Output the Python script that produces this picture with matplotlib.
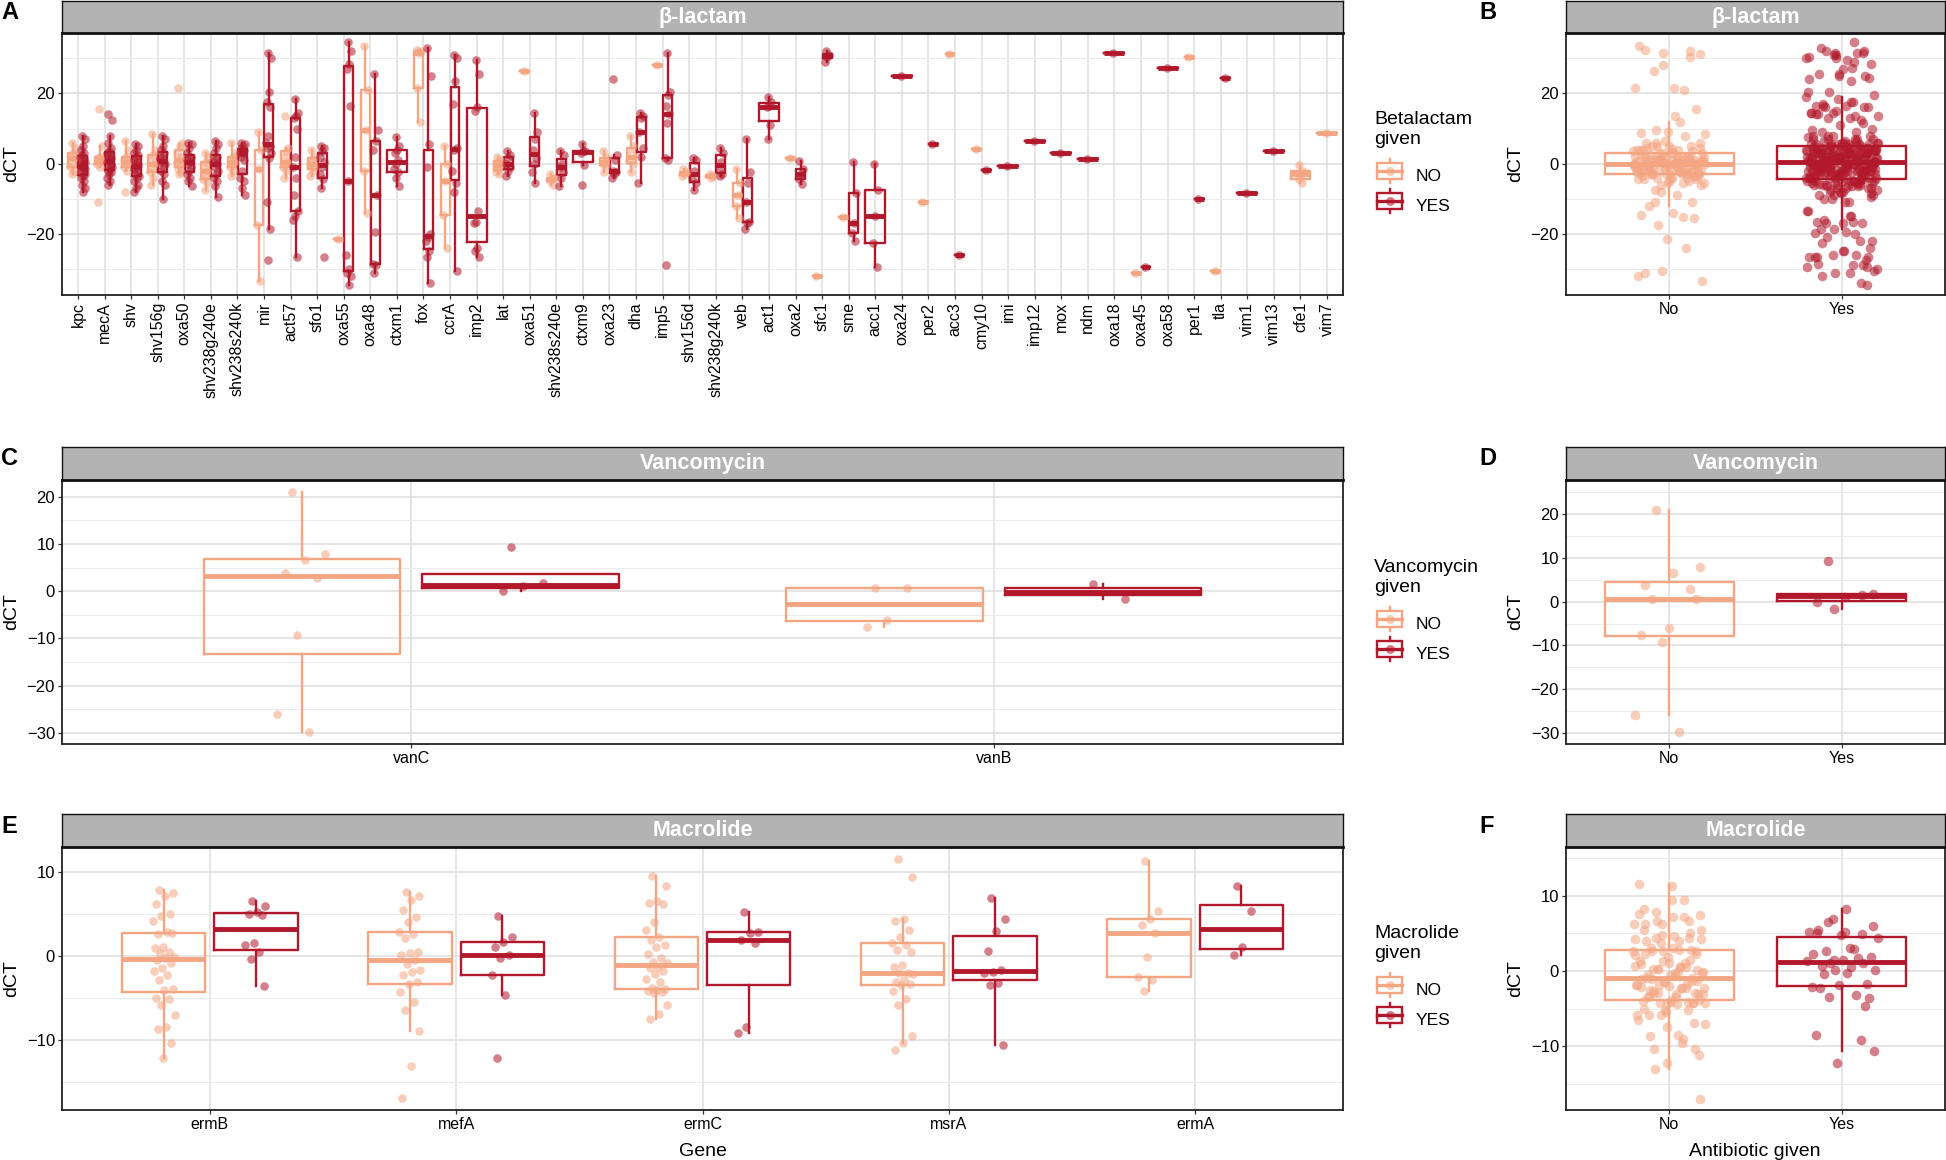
import numpy as np
import matplotlib
matplotlib.use("Agg")
import matplotlib.pyplot as plt
from matplotlib.lines import Line2D
from matplotlib.patches import Rectangle
from matplotlib.legend_handler import HandlerBase

plt.rcParams['font.family'] = ['Liberation Sans', 'DejaVu Sans']

W, H = 1946, 1160
NO_C = '#F4A582'
YES_C = '#B2182B'

# ---- data: beta-lactam genes (panel A / B) ----
bl_genes = ["kpc", "mecA", "shv", "shv156g", "oxa50", "shv238g240e", "shv238s240k", "mir",
            "act57", "sfo1", "oxa55", "oxa48", "ctxm1", "fox", "ccrA", "imp2", "lat", "oxa51",
            "shv238s240e", "ctxm9", "oxa23", "dha", "imp5", "shv156d", "shv238g240k", "veb",
            "act1", "oxa2", "sfc1", "sme", "acc1", "oxa24", "per2", "acc3", "cmy10", "imi",
            "imp12", "mox", "ndm", "oxa18", "oxa45", "oxa58", "per1", "tla", "vim1", "vim13",
            "cfe1", "vim7"]

bl_no = [
    [6, 4.5, 3, 2, 1.5, 0.5, -1, -2, -3],
    [15.5, 5, 2, 1.5, 1, 0.5, 0, -1, -11],
    [6.5, 4, 2, 1, 0.5, 0, -1, -2, -8],
    [8.5, 4, 2.5, 1, 0, -1, -2.5, -4, -6],
    [21.5, 6, 5, 3, 2, 1, 0.5, -0.5, -1.5, -2.5, -3],
    [3, 2, 0.5, -1, -2, -3, -4.5, -5.5, -7.5],
    [6, 3, 2, 1, 0.5, 0, -1, -2, -3.5],
    [9, 4, -1.5, -17.5, -33.5],
    [13.5, 4.5, 3.5, 2, 0.5, 0, -1, -2, -4],
    [4, 2, 1, 0, -1, -2, -3.5],
    [-21.5],
    [33.5, 21, 9.5, -2, -14],
    [],
    [32.5, 32, 31.5, 21.5, 12],
    [5, 0, -5, -14.5, -24],
    [],
    [2, 1, 0.5, 0, -0.5, -1.5, -2.5, -3],
    [26.5],
    [-3, -4, -4.5, -5, -6],
    [],
    [3.5, 2, 1, 0, -0.5, -2.5],
    [8, 5, 3, 1, 0, -2.5],
    [28],
    [-1.5, -2.5, -3, -3.5],
    [-3, -3.5, -4],
    [-1.5, -5.5, -9, -12, -15.5],
    [],
    [1.7],
    [-32],
    [-15.2],
    [],
    [],
    [-11],
    [31.3],
    [4.2],
    [], [], [], [], [],
    [-31.2],
    [],
    [30.4],
    [-30.6],
    [], [],
    [-0.5, -2, -3, -4.4, -5.5],
    [8.8],
]

bl_yes = [
    [8, 7, 5, 4, 3, 2.5, 2, 1.5, 1, 0.5, 0, -0.5, -1, -1, -1.5, -2, -2.5, -3, -3.5, -4, -5, -6, -7, -8],
    [14, 12.5, 8, 6, 4.5, 3.5, 3, 2.5, 2, 1.5, 1, 0.5, 0, -0.5, -1, -1.5, -2, -2.5, -3, -4, -5, -6],
    [5.5, 5, 4, 3, 2.5, 2, 1, 0.5, 0, -0.5, -1, -1.5, -2, -3, -3.5, -4, -5, -6, -7, -8],
    [8, 7, 5, 4, 3, 2, 1.5, 1, 0.5, 0, -1, -2, -3, -5, -6, -10],
    [6, 5.5, 4.5, 3, 2, 1.5, 1, 0.5, 0, -1, -2, -3, -4, -5, -6.5],
    [6.5, 5.5, 4.5, 3, 2, 1, 0.5, 0, -1, -2, -3, -4, -5, -6.5, -9.5],
    [6, 5.5, 5, 4.5, 4, 3.5, 3, 3, 2, 1, -2, -4, -5, -7, -9],
    [31.5, 30, 20.5, 17.5, 16, 8, 6, 5, 4.5, 3, 1.5, -11, -18.5, -27.5],
    [18.5, 14.5, 13.5, 13, 10, 2, -1, -4, -9, -13.5, -15, -16, -26.5],
    [5, 4.5, 3.5, 2, 0.5, -1, -3, -4.5, -7, -26.5],
    [34.5, 32, 28.5, 27, 16.5, -5, -26, -30, -31, -32, -34.5],
    [25.5, 9.5, 6.5, 4, -9, -19.5, -28.5, -29, -31],
    [7.5, 5, 4, 3, 1, 0, -1.5, -2.5, -4, -6.5],
    [33, 25, 5.5, -1, -20, -21, -22, -25, -26.5, -34],
    [31, 30, 23.5, 17, 4.5, 4, -2, -5.5, -8, -30.5],
    [29.5, 25.5, 16, 15, -13.5, -16.5, -17, -24, -25, -26.5],
    [3.5, 2.5, 1.5, 0, -1, -2, -3.5],
    [14.5, 9, 7, 4, 1.5, 0, -2.5, -5.5],
    [3.5, 2.5, 0, -1, -2.5, -4, -6.5],
    [5.5, 3.5, 3.5, 3, -0.5, -6],
    [24, 2.5, 1, -2, -2.5, -3, -4],
    [14.5, 13.5, 13, 9, 4.5, 2, -5.5],
    [31.5, 20.5, 19.5, 16.5, 14, 11.5, 1.5, 1, -29],
    [1.5, 1, -2, -4, -5.5, -7.5],
    [4.5, 3, 0.5, -1.5, -3, -3.5],
    [7, -2.5, -5.5, -11, -16.5, -17, -18.5],
    [19, 17.5, 16.5, 16, 11, 7],
    [0.7, -1.5, -3, -4.5, -5.7],
    [32, 31, 30.5, 29],
    [0.5, -8.4, -17, -19.8, -22],
    [0, -7.5, -15, -22.5, -29.5],
    [25],
    [5.5],
    [-26],
    [-1.9],
    [-0.8],
    [6.5],
    [2.9],
    [1.4],
    [31.5],
    [-29.5],
    [27.3],
    [-10.1],
    [24.4],
    [-8.4],
    [3.5],
    [],
    [],
]

# ---- data: vancomycin genes (panel C / D) ----
van_genes = ["vanC", "vanB"]
van_no = [[20.9, 7.9, 6.5, 3.8, 2.8, -9.2, -25.9, -29.7],
          [0.6, 0.6, -6.0, -7.5]]
van_yes = [[9.4, 1.8, 1.0, 0.0],
           [1.5, -1.7]]

# ---- data: macrolide genes (panel E / F) ----
mac_genes = ["ermB", "mefA", "ermC", "msrA", "ermA"]
mac_no = [
    [7.9, 7.5, 7.2, 6.2, 5.0, 4.8, 4.2, 2.8, 2.6, 2.7, 1.1, 0.9, 0.5, 0.3, -0.1, -0.3, -0.5,
     -0.9, -1.5, -1.8, -2.3, -2.9, -3.9, -4.1, -5.0, -5.2, -5.9, -7.1, -8.5, -8.7, -10.4, -12.2],
    [7.6, 7.2, 6.7, 5.5, 4.7, 4.0, 2.8, 2.6, 2.1, 0.5, 0.3, 0.1, -0.5, -1, -1.7, -1.9, -2.3,
     -3.1, -3.3, -4.3, -5.5, -6.5, -9, -13.1, -17],
    [9.5, 8.3, 6.6, 6.3, 6.2, 4.0, 3.1, 2.3, 1.9, 1.3, 1.1, 0.2, -0.3, -0.7, -0.9, -1.3, -1.5,
     -1.8, -2.2, -2.7, -3.1, -3.8, -4.0, -4.1, -4.2, -4.3, -4.4, -5.9, -6.9, -7.5],
    [11.6, 9.4, 4.4, 4.2, 3.1, 2.2, 1.5, 1.3, 0.7, 0.5, -1.1, -1.3, -2.0, -2.1, -2.2, -2.9,
     -3.1, -3.4, -3.5, -4.2, -5.2, -5.9, -9.6, -10.4, -11.2],
    [11.3, 5.4, 4.4, 3.7, 2.7, -0.1, -2.5, -2.9, -4.2],
]
mac_yes = [
    [6.5, 6.0, 5.2, 5.0, 4.9, 1.5, 1.3, 0.5, -0.4, -3.6],
    [4.8, 2.3, 1.7, 1.1, 0.1, -0.3, -2.3, -4.7, -12.2],
    [5.2, 2.9, 2.7, 1.9, 1.5, -8.5, -9.2],
    [6.9, 4.4, 3.0, 0.6, -1.7, -1.9, -2.1, -3.2, -3.5, -10.6],
    [8.3, 5.4, 1.1, 0.1],
]

given_labels = ["No", "Yes"]


def jit(n, w):
    # fixed, evenly spread horizontal offsets for the jittered points
    return ((np.arange(n) * 0.618034 + 0.31) % 1.0 - 0.5) * 2 * w


def px_axes(fig, x0, y0, x1, y1):
    return fig.add_axes([x0 / W, 1 - y1 / H, (x1 - x0) / W, (y1 - y0) / H])


def draw_box(ax, pos, vals, color, width, jw, size):
    if len(vals) == 0:
        return
    vals = np.asarray(vals, dtype=float)
    ax.boxplot([vals], positions=[pos], widths=width, showfliers=False, showcaps=False,
               manage_ticks=False, whis=1.5,
               boxprops=dict(color=color, lw=1.7), whiskerprops=dict(color=color, lw=1.7),
               medianprops=dict(color=color, lw=3.5, solid_capstyle='butt'))
    ax.scatter(pos + jit(len(vals), jw), vals, s=size, color=color, alpha=0.55, lw=0, zorder=3)


def grouped(ax, no_lists, yes_lists, jw):
    for i, (a, b) in enumerate(zip(no_lists, yes_lists)):
        x = i + 1
        if a and b:
            draw_box(ax, x - 0.1875, a, NO_C, 0.3375, jw, 38)
            draw_box(ax, x + 0.1875, b, YES_C, 0.3375, jw, 38)
        else:
            draw_box(ax, x, a, NO_C, 0.75, jw, 38)
            draw_box(ax, x, b, YES_C, 0.75, jw, 38)


def pooled(ax, no_lists, yes_lists):
    all_no = [v for g in no_lists for v in g]
    all_yes = [v for g in yes_lists for v in g]
    draw_box(ax, 1, all_no, NO_C, 0.75, 0.21, 48)
    draw_box(ax, 2, all_yes, YES_C, 0.75, 0.21, 48)


def style(ax, box, ylim, major, minor, labels, ylab_px, rot=0):
    x0, x1 = box
    n = len(labels)
    ax.set_xlim(0.4, n + 0.6)
    ax.set_ylim(*ylim)
    ax.set_yticks(major)
    ax.set_yticks(minor, minor=True)
    ax.set_xticks(np.arange(1, n + 1))
    if rot:
        ax.set_xticklabels(labels, rotation=90, ha='center', va='top')
    else:
        ax.set_xticklabels(labels)
    ax.grid(which='major', color='#DEDEDE', lw=1.1)
    ax.grid(which='minor', axis='y', color='#EBEBEB', lw=0.7)
    ax.set_axisbelow(True)
    for s in ax.spines.values():
        s.set_color('#222222')
        s.set_linewidth(1.3)
    ax.tick_params(which='minor', length=0)
    ax.tick_params(which='major', length=3, width=0.9, color='#333333', labelsize=11.5,
                   pad=2, labelcolor='black')
    ax.tick_params(axis='y', labelsize=12)
    ax.set_ylabel('dCT', fontsize=14)
    ax.yaxis.set_label_coords((ylab_px - x0) / (x1 - x0), 0.5)


def strip(fig, x0, y0, x1, y1, title):
    s = px_axes(fig, x0, y0, x1, y1)
    s.set_facecolor('#B3B3B3')
    s.set_xticks([])
    s.set_yticks([])
    for sp in s.spines.values():
        sp.set_color('#111111')
        sp.set_linewidth(1.0)
    s.spines['bottom'].set_linewidth(2.0)
    s.text(0.5, 0.5, title, color='white', fontweight='bold', fontsize=15.5,
           ha='center', va='center', transform=s.transAxes)


class BoxKey(HandlerBase):
    def create_artists(self, legend, orig, x0, y0, width, height, fontsize, trans):
        c = orig.get_color()
        cx = x0 + width / 2
        whisk = Line2D([cx, cx], [y0 - 0.25 * height, y0 + 1.25 * height], color=c, lw=1.7,
                       transform=trans)
        rect = Rectangle((x0, y0), width, height, fc='white', ec=c, lw=1.7,
                         transform=trans)
        med = Line2D([x0, x0 + width], [y0 + height / 2] * 2, color=c, lw=2.4,
                     transform=trans)
        dot = Line2D([cx], [y0 + height / 2], marker='o', ms=6.5, color=c, alpha=0.55,
                     ls='none', mew=0, transform=trans)
        return [whisk, rect, med, dot]


def legend(fig, title, key1_px):
    fig.text(1374 / W, 1 - (key1_px - 63) / H, title, fontsize=14, ha='left', va='top',
             linespacing=1.2)
    handles = [Line2D([], [], color=NO_C), Line2D([], [], color=YES_C)]
    fig.legend(handles, ["NO", "YES"], loc='upper left',
               bbox_to_anchor=(1377 / W, 1 - (key1_px - 7) / H), frameon=False,
               handler_map={Line2D: BoxKey()}, fontsize=12.5,
               handlelength=1.45, handleheight=1.03, labelspacing=0.78,
               handletextpad=0.75, borderaxespad=0, borderpad=0)


fig = plt.figure(figsize=(W / 100, H / 100), dpi=100)

LEFT = (62, 1343)
RIGHT = (1566, 1945)

# panel A
axA = px_axes(fig, LEFT[0], 33, LEFT[1], 295)
grouped(axA, bl_no, bl_yes, 0.1)
style(axA, LEFT, (-37.4, 37.2), [-20, 0, 20], [-30, -10, 10, 30], bl_genes, 20, rot=90)
strip(fig, LEFT[0], 1, LEFT[1], 33, "β-lactam")

# panel B
axB = px_axes(fig, RIGHT[0], 33, RIGHT[1], 295)
pooled(axB, bl_no, bl_yes)
style(axB, RIGHT, (-37.4, 37.2), [-20, 0, 20], [-30, -10, 10, 30], given_labels, 1524)
strip(fig, RIGHT[0], 1, RIGHT[1], 33, "β-lactam")
legend(fig, "Betalactam\ngiven", 174)

# panel C
axC = px_axes(fig, LEFT[0], 480, LEFT[1], 744)
grouped(axC, van_no, van_yes, 0.045)
style(axC, LEFT, (-32.3, 23.5), [-30, -20, -10, 0, 10, 20], [-25, -15, -5, 5, 15],
      van_genes, 20)
strip(fig, LEFT[0], 447, LEFT[1], 480, "Vancomycin")

# panel D
axD = px_axes(fig, RIGHT[0], 480, RIGHT[1], 744)
pooled(axD, van_no, van_yes)
style(axD, RIGHT, (-32.5, 27.8), [-30, -20, -10, 0, 10, 20], [-25, -15, -5, 5, 15, 25],
      given_labels, 1524)
strip(fig, RIGHT[0], 447, RIGHT[1], 480, "Vancomycin")
legend(fig, "Vancomycin\ngiven", 622)

# panel E
axE = px_axes(fig, LEFT[0], 847, LEFT[1], 1110)
grouped(axE, mac_no, mac_yes, 0.045)
style(axE, LEFT, (-18.4, 13.0), [-10, 0, 10], [-15, -5, 5], mac_genes, 20)
strip(fig, LEFT[0], 814, LEFT[1], 847, "Macrolide")

# panel F
axF = px_axes(fig, RIGHT[0], 847, RIGHT[1], 1110)
pooled(axF, mac_no, mac_yes)
style(axF, RIGHT, (-18.5, 16.5), [-10, 0, 10], [-15, -5, 5, 15], given_labels, 1524)
strip(fig, RIGHT[0], 814, RIGHT[1], 847, "Macrolide")
legend(fig, "Macrolide\ngiven", 988)

fig.text(703 / W, 1 - 1151 / H, "Gene", fontsize=14, ha='center', va='center')
fig.text(1755 / W, 1 - 1151 / H, "Antibiotic given", fontsize=14, ha='center', va='center')

for lab, x, y in [("A", 1, 1), ("B", 1479, 1), ("C", 1, 447), ("D", 1479, 447),
                  ("E", 1, 815), ("F", 1479, 815)]:
    fig.text(x / W, 1 - y / H, lab, fontsize=17, fontweight='bold', ha='left', va='top')

fig.savefig("out.png", dpi=100)
